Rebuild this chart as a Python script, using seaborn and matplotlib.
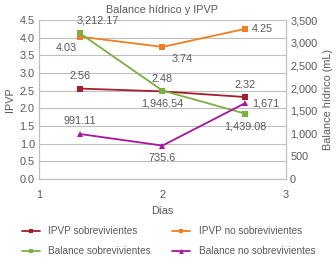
import matplotlib
matplotlib.use("Agg")
import matplotlib.pyplot as plt
import seaborn as sns
import pandas as pd
from matplotlib.lines import Line2D

days = [1.33, 2.0, 2.67]
ipvp_sobre = [2.56, 2.48, 2.32]
ipvp_no = [4.03, 3.74, 4.25]
bal_sobre = [3212.17, 1946.54, 1439.08]
bal_no = [991.11, 735.6, 1671]
lab_ipvp_sobre = ["2.56", "2.48", "2.32"]
lab_ipvp_no = ["4.03", "3.74", "4.25"]
lab_bal_sobre = ["3,212.17", "1,946.54", "1,439.08"]
lab_bal_no = ["991.11", "735.6", "1,671"]

sns.set_theme(style="white")
plt.rcParams['font.family'] = ['Liberation Sans', 'DejaVu Sans']
TXT = "#595959"
GRID = "#BFBFBF"
c_red = "#A3202A"
c_or = "#F07F22"
c_gr = "#7CAF3F"
c_pu = "#A3169E"
FS = 7.8
LFS = 7.2

fig = plt.figure(figsize=(3.36, 2.57), dpi=100)
ax = fig.add_axes([0.116, 0.3035, 0.735, 0.6185])
ax2 = ax.twinx()

df1 = pd.DataFrame({"x": days * 2, "y": ipvp_sobre + ipvp_no,
                    "s": ["IPVP sobrevivientes"] * 3 + ["IPVP no sobrevivientes"] * 3})
df2 = pd.DataFrame({"x": days * 2, "y": bal_sobre + bal_no,
                    "s": ["Balance sobrevivientes"] * 3 + ["Balance no sobrevivientes"] * 3})

sns.lineplot(data=df1, x="x", y="y", hue="s", style="s",
             palette=[c_red, c_or], markers=["s", "s"], dashes=False,
             markersize=4, linewidth=1.3, markeredgewidth=0, ax=ax, legend=False)
sns.lineplot(data=df2, x="x", y="y", hue="s", style="s",
             palette=[c_gr, c_pu], markers=["s", "^"], dashes=False,
             markersize=4, linewidth=1.3, markeredgewidth=0, ax=ax2, legend=False)

ax.set_xlim(1, 3)
ax.set_ylim(0, 4.5)
ax2.set_ylim(0, 3500)
ax.set_xticks([1, 2, 3])
ax.set_yticks([i * 0.5 for i in range(10)])
ax.set_yticklabels([f"{i*0.5:.1f}" for i in range(10)])
ax2.set_yticks(range(0, 3501, 500))
ax2.set_yticklabels([f"{v:,}" for v in range(0, 3501, 500)])
ax.yaxis.grid(True, color=GRID, linewidth=0.8)
ax.set_axisbelow(True)
for a in (ax, ax2):
    for sp in a.spines.values():
        sp.set_color(GRID)
        sp.set_linewidth(0.8)
    a.spines['top'].set_visible(False)
    a.tick_params(colors=TXT, labelsize=FS, length=0, pad=3)
ax.tick_params(axis='x', pad=8)

ax.set_xlabel("Días", color=TXT, fontsize=FS, labelpad=4)
ax.set_ylabel("IPVP", color=TXT, fontsize=FS, labelpad=3)
ax2.set_ylabel("Balance hídrico (mL)", color=TXT, fontsize=FS, labelpad=4)
ax.set_title("Balance hídrico y IPVP", color=TXT, fontsize=FS, pad=5)

def ann(a, x, y, s, dx, dy, ha="center"):
    a.annotate(s, (x, y), xytext=(dx, dy), textcoords="offset points",
               ha=ha, va="center", fontsize=FS, color=TXT)

for x, y, s in zip(days, ipvp_sobre, lab_ipvp_sobre):
    ann(ax, x, y, s, 0, 9)
ann(ax, days[0], ipvp_no[0], lab_ipvp_no[0], -10, -8)
ann(ax, days[1], ipvp_no[1], lab_ipvp_no[1], 14, -9)
ann(ax, days[2], ipvp_no[2], lab_ipvp_no[2], 5, 0, ha="left")
ann(ax2, days[0], bal_sobre[0], lab_bal_sobre[0], 13, 9)
ann(ax2, days[1], bal_sobre[1], lab_bal_sobre[1], 0, -9)
ann(ax2, days[2], bal_sobre[2], lab_bal_sobre[2], 0, -9)
ann(ax2, days[0], bal_no[0], lab_bal_no[0], 0, 9)
ann(ax2, days[1], bal_no[1], lab_bal_no[1], 0, -9)
ann(ax2, days[2], bal_no[2], lab_bal_no[2], 5, 0, ha="left")

handles = [
    Line2D([], [], color=c_red, marker="s", markersize=3.5, markeredgewidth=0, lw=1.3),
    Line2D([], [], color=c_gr, marker="s", markersize=3.5, markeredgewidth=0, lw=1.3),
    Line2D([], [], color=c_or, marker="s", markersize=3.5, markeredgewidth=0, lw=1.3),
    Line2D([], [], color=c_pu, marker="^", markersize=3.5, markeredgewidth=0, lw=1.3),
]
labels = ["IPVP sobrevivientes", "Balance sobrevivientes",
          "IPVP no sobrevivientes", "Balance no sobrevivientes"]
leg = fig.legend(handles, labels, ncol=2, loc="lower left",
                 bbox_to_anchor=(22 / 336, 0.002), borderpad=0, borderaxespad=0,
                 frameon=False, fontsize=LFS,
                 handlelength=1.8, columnspacing=2.1, handletextpad=0.85,
                 labelspacing=1.0, labelcolor=TXT)

fig.savefig("out.png", dpi=100)
